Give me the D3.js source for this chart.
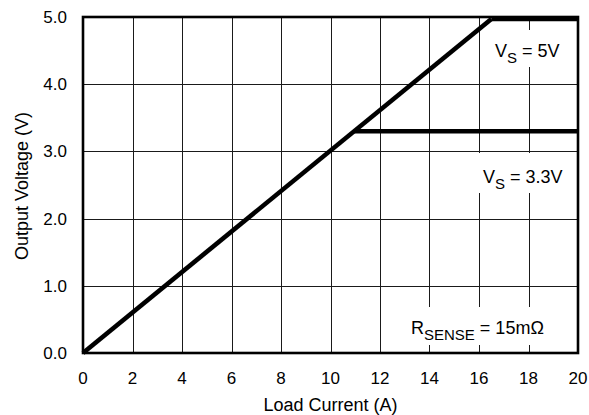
<!DOCTYPE html>
<html>
<head>
<meta charset="utf-8">
<script src="https://cdn.jsdelivr.net/npm/d3@7"></script>
<style>
  html, body { margin: 0; padding: 0; background: #fff; }
  svg { display: block; font-family: "Liberation Sans", Arial, Helvetica, sans-serif; }
</style>
</head>
<body>
<svg id="chart" width="589" height="415"></svg>
<script>
// Output voltage vs. load current for two supply voltages
const xTicks = [0, 2, 4, 6, 8, 10, 12, 14, 16, 18, 20];
const yTicks = [0, 1, 2, 3, 4, 5];
const yTickLabels = ["0.0", "1.0", "2.0", "3.0", "4.0", "5.0"];

// [load current (A), output voltage (V)]
const rampCurve = [[0, 0], [16.5, 4.97]];
const clamp5V = [[16.5, 4.97], [20, 4.97]];
const clamp3V3 = [[10.96, 3.3], [20, 3.3]];

const svg = d3.select("#chart");
const m = { left: 83, right: 578, top: 17, bottom: 353 };

const x = d3.scaleLinear().domain([0, 20]).range([m.left, m.right]);
const y = d3.scaleLinear().domain([0, 5]).range([m.bottom, m.top]);

// grid
const grid = svg.append("g").attr("stroke", "#1a1a1a").attr("stroke-width", 1);
grid.selectAll("line.v").data(xTicks.slice(1, -1)).join("line")
  .attr("x1", d => Math.round(x(d)) + 0.5).attr("x2", d => Math.round(x(d)) + 0.5)
  .attr("y1", m.top).attr("y2", m.bottom);
grid.selectAll("line.h").data(yTicks.slice(1, -1)).join("line")
  .attr("y1", d => Math.round(y(d)) + 0.5).attr("y2", d => Math.round(y(d)) + 0.5)
  .attr("x1", m.left).attr("x2", m.right);

// annotation boxes (white background behind labels)
function note(bx, by, bw, bh, tx, ty, main, sub, rest) {
  svg.append("rect").attr("x", bx).attr("y", by).attr("width", bw).attr("height", bh).attr("fill", "#fff");
  const t = svg.append("text").attr("x", tx).attr("y", ty).attr("font-size", 18).attr("fill", "#000");
  t.append("tspan").text(main);
  t.append("tspan").attr("font-size", 15).attr("dy", 6).text(sub);
  t.append("tspan").attr("dy", -6).text(rest);
}
note(486, 30, 86, 37, 495, 57, "V", "S", " = 5V");
note(474, 153, 100, 40, 483, 183, "V", "S", " = 3.3V");
note(400, 307, 174, 38, 411, 334, "R", "SENSE", " = 15m\u03A9");

// frame
svg.append("rect")
  .attr("x", m.left).attr("y", m.top)
  .attr("width", m.right - m.left).attr("height", m.bottom - m.top)
  .attr("fill", "none").attr("stroke", "#000").attr("stroke-width", 2.6);

// curves
const line = d3.line().x(d => x(d[0])).y(d => y(d[1]));
[rampCurve, clamp5V, clamp3V3].forEach(s => {
  svg.append("path").attr("d", line(s))
    .attr("fill", "none").attr("stroke", "#000").attr("stroke-width", 4.6)
    .attr("stroke-linecap", "butt").attr("stroke-linejoin", "miter");
});

// tick labels
svg.append("g").selectAll("text").data(xTicks).join("text")
  .attr("x", d => x(d)).attr("y", 384)
  .attr("text-anchor", "middle").attr("font-size", 17).attr("fill", "#000")
  .text(d => d);
svg.append("g").selectAll("text").data(yTicks).join("text")
  .attr("x", 67).attr("y", d => y(d) + 6)
  .attr("text-anchor", "end").attr("font-size", 17).attr("fill", "#000")
  .text((d, i) => yTickLabels[i]);

// axis titles
svg.append("text").attr("x", (m.left + m.right) / 2).attr("y", 411)
  .attr("text-anchor", "middle").attr("font-size", 18).attr("fill", "#000")
  .text("Load Current (A)");
svg.append("text").attr("transform", "translate(28," + ((m.top + m.bottom) / 2 + 1) + ") rotate(-90)")
  .attr("text-anchor", "middle").attr("font-size", 18).attr("fill", "#000")
  .text("Output Voltage (V)");
</script>
</body>
</html>
